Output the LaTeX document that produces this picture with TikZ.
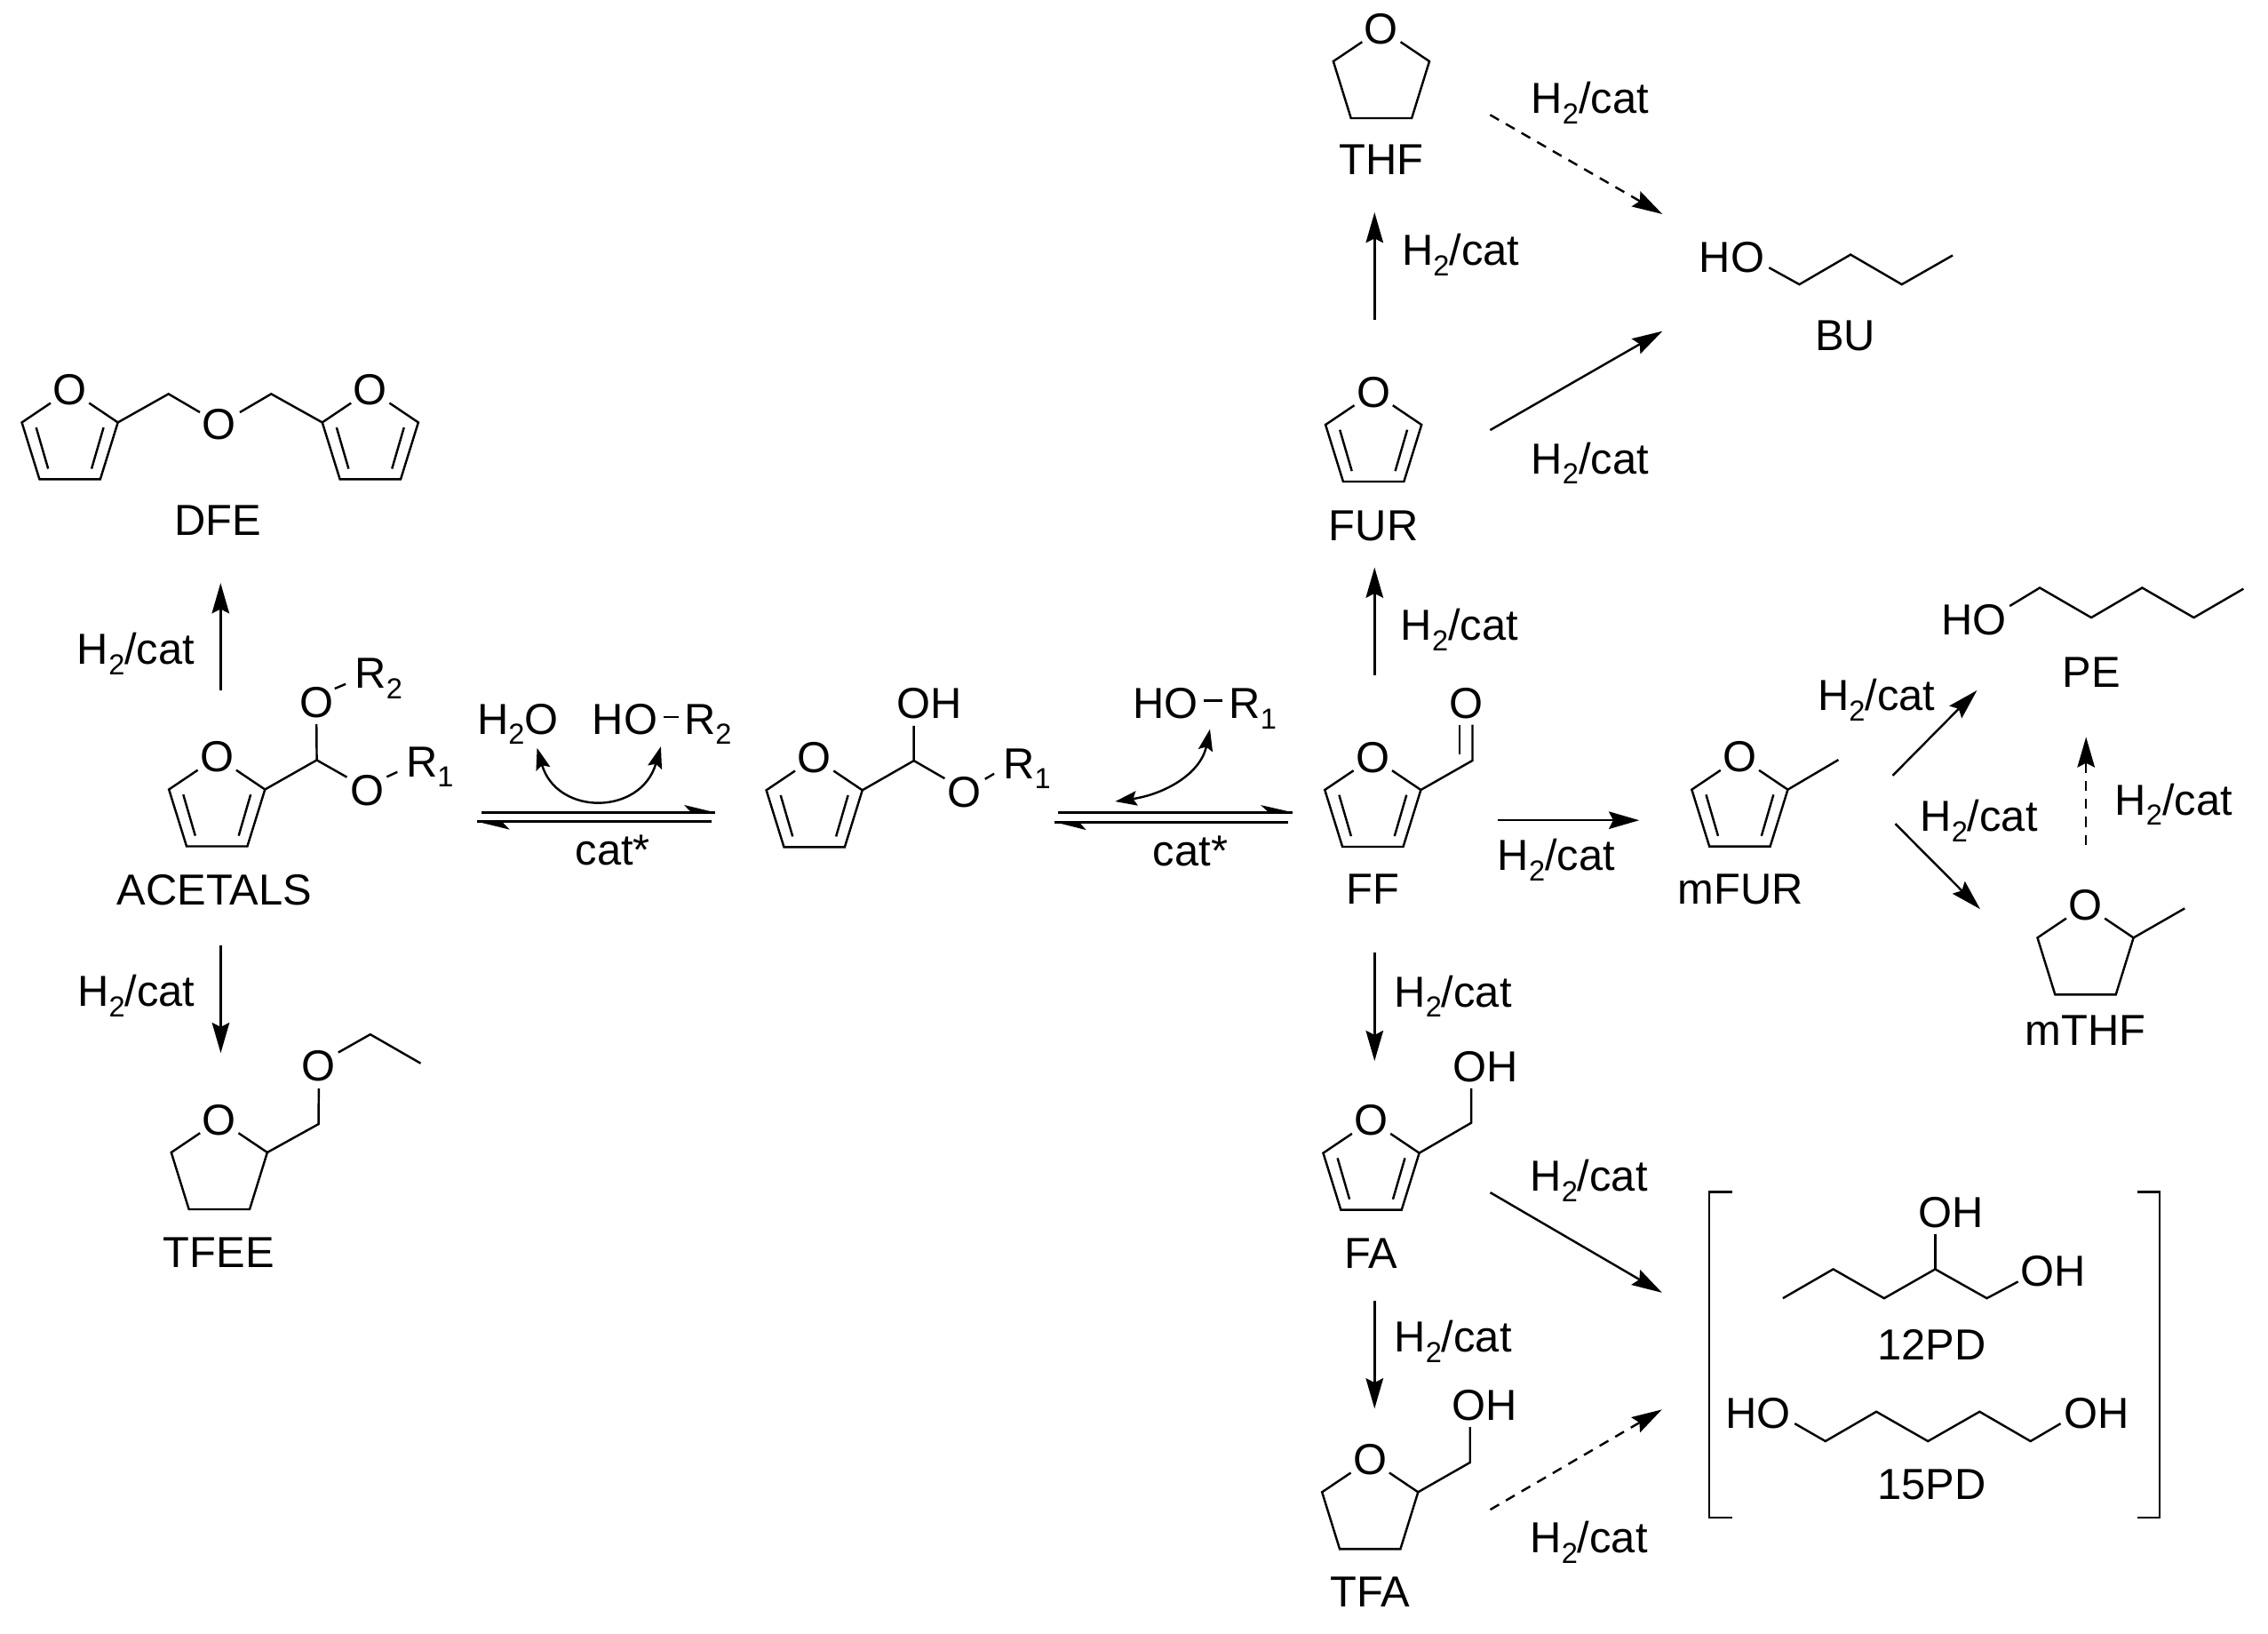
\documentclass[tikz,border=0pt]{standalone}
\usepackage{fontspec}
\setmainfont{Liberation Sans}
\usetikzlibrary{arrows.meta}
\newcommand{\subs}[1]{\raisebox{-0.24em}{\fontsize{20}{20}\selectfont #1}}
\newcommand{\HC}{H\subs{2}/cat}
\newcommand{\rxnarrow}[4]{\coordinate (#2-s) at (#3);\coordinate (#2-e) at (#4);\draw[#1] (#2-s) -- (#2-e);}
\tikzset{
  lab/.style={inner sep=0pt,outer sep=0pt,text=black,font=\fontsize{30}{32}\selectfont,text height=21.5pt,text depth=0pt},
  bond/.style={draw=black,line width=1.5pt,line join=miter,line cap=butt},
  rxn/.style={draw=black,line width=1.5pt,-{Stealth[length=21pt,width=12pt,inset=3pt]}},
  dashrxn/.style={rxn,dash pattern=on 7pt off 5.5pt},
  curved/.style={draw=black,line width=1.5pt,{Stealth[length=15pt,width=10pt,inset=2.5pt]}-{Stealth[length=15pt,width=10pt,inset=2.5pt]}},
  eqline/.style={draw=black,line width=1.8pt},
  thf/.pic={
    \node[lab] (-o) at (0,0) {O};
    \coordinate (-c2) at (33.2,23);
    \coordinate (-c5) at (-33.2,23);
    \draw[bond] (-13.3,9.6) -- (-c5) -- (-21,62.3) -- (21,62.3) -- (-c2) -- (13.3,9.6);
  },
  furan/.pic={
    \node[lab] (-o) at (0,0) {O};
    \coordinate (-c2) at (33.2,23);
    \coordinate (-c5) at (-33.2,23);
    \draw[bond] (-13.3,9.6) -- (-c5) -- (-21,62.3) -- (21,62.3) -- (-c2) -- (13.3,9.6);
    \draw[bond] (-23.3,26.5) -- (-15,55);
    \draw[bond] (23.3,26.5) -- (15,55);
  }
}
\begin{document}
\begin{tikzpicture}[x=1pt,y=-1pt]
\useasboundingbox (0,0) rectangle (1568,1129);
\fill[white] (0,0) rectangle (1568,1129);

% DFE
\pic (dfea) at (48.3,269) {furan};
\pic (dfeb) at (256,269) {furan};
\node[lab] (dfeo) at (151.5,293) {O};
\draw[bond] (dfea-c2) -- (116.5,272.3) -- (138.2,285);
\draw[bond] (165.8,285) -- (187.5,272.3) -- (dfeb-c5);
\node[lab] (dfe) at (150.5,359.5) {DFE};

% ACETALS
\pic (ac) at (150,522.7) {furan};
\node[lab] (aco2) at (218.8,485.1) {O};
\node[lab] (aco1) at (253.7,546) {O};
\draw[bond] (ac-c2) -- (219,525.4) -- (218.8,500.7);
\draw[bond] (219,525.4) -- (239.8,537.2);
\draw[bond] (267.4,537) -- (274.7,533.6);
\draw[bond] (231.4,476) -- (239,472.8);
\node[lab,anchor=west] (acr1) at (280.7,526.2) {R\subs{1}};
\node[lab,anchor=west] (acr2) at (245.4,464.8) {R\subs{2}};
\node[lab] (acetals) at (148.2,614.5) {ACETALS};

% TFEE
\pic (tfee) at (151.6,773.6) {thf};
\node[lab] (tfeeo) at (220.2,736.1) {O};
\draw[bond] (tfee-c2) -- (220.2,777) -- (220.4,752.5);
\draw[bond] (233.9,727.5) -- (256,715) -- (290.8,735);
\node[lab] (tfeelab) at (151.2,865.1) {TFEE};

% arrows left
\rxnarrow{rxn}{a1}{152.5,477}{152.5,403}
\node[lab] (c1) at (94,448.6) {\HC};
\rxnarrow{rxn}{a2}{152.6,653.2}{152.6,727.9}
\node[lab] (c2) at (94.2,684.9) {\HC};

% equilibrium 1
\coordinate (e1a) at (333,561.6); \coordinate (e1b) at (494.5,561.6);
\coordinate (e1c) at (492.2,567.9); \coordinate (e1d) at (329.7,567.9);
\draw[eqline] (e1a) -- (e1b);
\draw[eqline] (e1c) -- (e1d);
\fill[black] (e1b) -- (472.9,556.4) -- (478,561.6) -- cycle;
\fill[black] (e1d) -- (352.3,573.4) -- (347,567.9) -- cycle;
\node[lab] (cats1) at (423.6,587) {cat*};
\node[lab] (h2o) at (358,496.6) {H\subs{2}O};
\node[lab] (ho2) at (432,496.6) {HO};
\node[lab,anchor=west] (r2) at (473,496.6) {R\subs{2}};
\draw[bond] (459,495.8) -- (469.5,495.8);
\coordinate (h2oe) at (371.3,517);
\coordinate (ho2e) at (456.9,516);
\draw[curved] (h2oe) .. controls (385,564) and (443,564) .. (ho2e);

% intermediate
\pic (hem) at (563,523.2) {furan};
\node[lab] (hemoh) at (642.2,485.7) {OH};
\node[lab] (hemo) at (666.9,547.3) {O};
\draw[bond] (hem-c2) -- (631.8,525.8) -- (631.8,501.7);
\draw[bond] (631.8,525.8) -- (653.1,538.1);
\draw[bond] (681,538.5) -- (687.3,534.8);
\node[lab,anchor=west] (hemr) at (693.6,527.3) {R\subs{1}};

% equilibrium 2
\coordinate (e2a) at (731.5,561.5); \coordinate (e2b) at (893.6,561.5);
\coordinate (e2c) at (890.4,568.2); \coordinate (e2d) at (729,568.2);
\draw[eqline] (e2a) -- (e2b);
\draw[eqline] (e2c) -- (e2d);
\fill[black] (e2b) -- (871.6,556.5) -- (877,561.5) -- cycle;
\fill[black] (e2d) -- (750.9,573.7) -- (746,568.2) -- cycle;
\node[lab] (cats2) at (823,587.7) {cat*};
\node[lab] (ho1) at (806,485.7) {HO};
\node[lab,anchor=west] (r1) at (849.7,485.7) {R\subs{1}};
\draw[bond] (832.5,484.3) -- (845,484.3);
\coordinate (ho1e) at (836.5,504);
\coordinate (e2t) at (771,554);
\draw[curved] (ho1e) .. controls (830,535) and (805,549) .. (e2t);

% FF
\pic (ff) at (949.1,523) {furan};
\node[lab] (ffo) at (1013.6,485.7) {O};
\draw[bond] (ff-c2) -- (1018,525.7) -- (1018,500.9);
\draw[bond] (1009,500.9) -- (1009,521.5);
\node[lab] (fflab) at (949.4,614.3) {FF};

% FUR
\pic (fur) at (949.6,270.6) {furan};
\node[lab] (furlab) at (949.6,362.9) {FUR};
\rxnarrow{rxn}{a3}{950.3,467}{950.3,392.2}
\node[lab] (c3) at (1009,431.8) {\HC};

% THF
\pic (thf) at (955,19.4) {thf};
\node[lab] (thflab) at (955,110) {THF};
\rxnarrow{rxn}{a4}{950.3,221.4}{950.3,146.8}
\node[lab] (c4) at (1009.8,172.8) {\HC};
\rxnarrow{dashrxn}{a5}{1030.2,79.4}{1149.3,148}
\node[lab] (c5) at (1099.2,67.5) {\HC};
\rxnarrow{rxn}{a6}{1030.2,297.3}{1149.3,228.9}
\node[lab] (c6) at (1099.2,316.7) {\HC};

% BU
\node[lab] (buho) at (1197.3,177.2) {HO};
\draw[bond] (1223,185) -- (1244,196.6) -- (1279.4,176) -- (1314.8,196.6) -- (1350,176.5);
\node[lab] (bulab) at (1275.7,231.3) {BU};

% mFUR
\rxnarrow{rxn}{a7}{1035.2,567}{1133.3,567}
\node[lab] (c7) at (1075.9,590.8) {\HC};
\pic (mfur) at (1202.8,522.8) {furan};
\draw[bond] (mfur-c2) -- (1271,525.2);
\node[lab] (mfurlab) at (1203.3,614.3) {mFUR};
\rxnarrow{rxn}{a8}{1308.5,536.1}{1366.8,477.2}
\node[lab] (c8) at (1297.2,480.3) {\HC};
\rxnarrow{rxn}{a9}{1310.3,569.4}{1369,628.4}
\node[lab] (c9) at (1368.1,564) {\HC};
\rxnarrow{dashrxn}{a10}{1442.2,584.2}{1442.2,509.4}
\node[lab] (c10) at (1502.7,552.6) {\HC};

% PE
\node[lab] (peho) at (1364.5,428.1) {HO};
\draw[bond] (1389.4,418.9) -- (1410.2,406.3) -- (1445.8,426.9) -- (1481,406.3) -- (1516.7,426.9) -- (1551,407);
\node[lab] (pelab) at (1445.8,464.5) {PE};

% mTHF
\pic (mthf) at (1441.8,625.2) {thf};
\draw[bond] (mthf-c2) -- (1510.4,627.9);
\node[lab] (mthflab) at (1441.8,712) {mTHF};

% FA
\rxnarrow{rxn}{a11}{950.3,658.7}{950.3,733.4}
\node[lab] (c11) at (1004.5,685.2) {\HC};
\pic (fa) at (948,774) {furan};
\node[lab] (faoh) at (1027.1,737.1) {OH};
\draw[bond] (fa-c2) -- (1017.2,776.1) -- (1017.2,752.3);
\node[lab] (falab) at (948,866) {FA};

% TFA
\rxnarrow{rxn}{a12}{950.3,899}{950.3,973.7}
\node[lab] (c12) at (1004.5,924) {\HC};
\pic (tfa) at (947.2,1008.4) {thf};
\node[lab] (tfaoh) at (1026.2,971.2) {OH};
\draw[bond] (tfa-c2) -- (1016.3,1010.9) -- (1016.3,986.5);
\node[lab] (tfalab) at (947.2,1100) {TFA};

\rxnarrow{rxn}{a13}{1030.3,824.3}{1149,893.5}
\node[lab] (c13) at (1098.5,812.7) {\HC};
\rxnarrow{dashrxn}{a14}{1030.3,1043.5}{1149,974.3}
\node[lab] (c14) at (1098.5,1062.7) {\HC};

% brackets
\draw[bond] (1197.4,824) -- (1181.6,824) -- (1181.6,1049) -- (1197.4,1049);
\draw[bond] (1477.4,824) -- (1493.2,824) -- (1493.2,1049) -- (1477.4,1049);

% 12PD
\draw[bond] (1232.6,897.4) -- (1267.4,877.3) -- (1302.6,897.4) -- (1337.9,877.3) -- (1373.6,897.4) -- (1395.2,885.9);
\draw[bond] (1337.9,877.3) -- (1337.9,853.2);
\node[lab] (pd1a) at (1348.7,837.7) {OH};
\node[lab] (pd1b) at (1419.2,878.2) {OH};
\node[lab] (pd12) at (1335.6,929.2) {12PD};

% 15PD
\node[lab] (pd5a) at (1215.5,976.7) {HO};
\node[lab] (pd5b) at (1449.4,976.7) {OH};
\draw[bond] (1240.8,984) -- (1262,996.2) -- (1297.2,975.8) -- (1332.9,996.2) -- (1368.6,975.8) -- (1403.8,996.2) -- (1424.6,984);
\node[lab] (pd15) at (1335.6,1025.5) {15PD};
\end{tikzpicture}
\end{document}
